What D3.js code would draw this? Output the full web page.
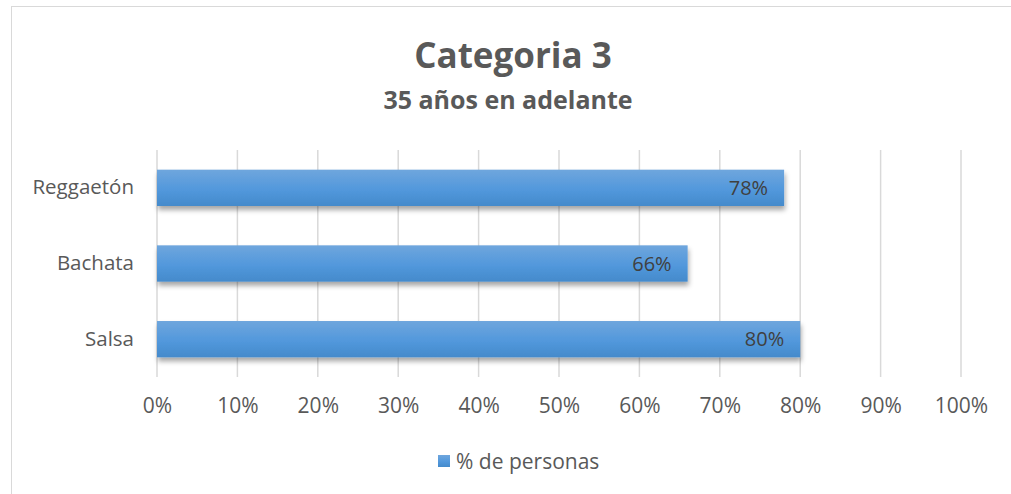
<html>
<script src="https://d3js.org/d3.v7.min.js"></script>
<style>
body { margin: 0; background: white; }
text { font-family: 'Open Sans', sans-serif; }
</style>
<body>
<svg id="chart" width="1011" height="494"></svg>
<script>
const categories = ["Reggaetón", "Bachata", "Salsa"];
const values = [0.78, 0.66, 0.80];
const ticks = [0, 0.1, 0.2, 0.3, 0.4, 0.5, 0.6, 0.7, 0.8, 0.9, 1.0];
const seriesName = "% de personas";
const title = "Categoria 3";
const subtitle = "35 años en adelante";

const svg = d3.select("#chart");

// chart frame
svg.append("rect")
  .attr("x", 11.5).attr("y", 6.5)
  .attr("width", 1011).attr("height", 494)
  .attr("fill", "white")
  .attr("stroke", "#d9d9d9");

const defs = svg.append("defs");
const grad = defs.append("linearGradient")
  .attr("id", "barGrad").attr("x1", 0).attr("y1", 0).attr("x2", 0).attr("y2", 1);
grad.append("stop").attr("offset", "0%").attr("stop-color", "#6fa6dd");
grad.append("stop").attr("offset", "55%").attr("stop-color", "#5298dc");
grad.append("stop").attr("offset", "100%").attr("stop-color", "#448acb");

const shadow = defs.append("filter").attr("id", "shadow")
  .attr("x", "-5%").attr("y", "-20%").attr("width", "110%").attr("height", "160%");
shadow.append("feDropShadow")
  .attr("dx", 1).attr("dy", 4).attr("stdDeviation", 2.5)
  .attr("flood-color", "#000").attr("flood-opacity", 0.35);

var x = d3.scaleLinear().domain([0, 1]).range([157, 961]);
var y = d3.scaleBand().domain(categories).range([150, 377]).paddingInner(0.52).paddingOuter(0.26);

// gridlines
svg.append("g")
  .selectAll("line")
  .data(ticks)
  .enter()
  .append("line")
  .attr("x1", d => x(d)).attr("x2", d => x(d))
  .attr("y1", 150).attr("y2", 377)
  .attr("stroke", "#d9d9d9")
  .attr("stroke-width", 1.5);

// bars
svg.append("g")
  .selectAll("rect")
  .data(values)
  .enter()
  .append("rect")
  .attr("x", x(0))
  .attr("y", (d, i) => y(categories[i]))
  .attr("width", d => x(d) - x(0))
  .attr("height", y.bandwidth())
  .attr("fill", "url(#barGrad)")
  .attr("filter", "url(#shadow)");

// data labels
svg.append("g")
  .selectAll("text")
  .data(values)
  .enter()
  .append("text")
  .attr("x", d => x(d) - 16)
  .attr("y", (d, i) => y(categories[i]) + y.bandwidth() / 2)
  .attr("dy", "0.36em")
  .attr("text-anchor", "end")
  .style("font-size", "20px")
  .attr("fill", "#404040")
  .text(d => Math.round(d * 100) + "%");

// y axis
const yAxis = svg.append("g")
  .attr("transform", "translate(134,0)")
  .call(d3.axisLeft(y).tickSize(0).tickPadding(0));
yAxis.select(".domain").remove();
yAxis.selectAll("text")
  .style("font-size", "20.5px")
  .style("font-family", "'Open Sans', sans-serif")
  .attr("fill", "#595959");

// x axis
const xAxis = svg.append("g")
  .attr("transform", "translate(0,377)")
  .call(d3.axisBottom(x).tickValues(ticks).tickFormat(d3.format(".0%")).tickSize(0).tickPadding(21));
xAxis.select(".domain").remove();
xAxis.selectAll("text")
  .style("font-size", "21px")
  .style("font-family", "'Open Sans', sans-serif")
  .attr("fill", "#595959");

// titles
svg.append("text")
  .attr("x", 513).attr("y", 68)
  .attr("text-anchor", "middle")
  .style("font-size", "35px")
  .style("font-weight", "bold")
  .attr("fill", "#595959")
  .text(title);

svg.append("text")
  .attr("x", 508).attr("y", 109)
  .attr("text-anchor", "middle")
  .style("font-size", "25px")
  .style("font-weight", "bold")
  .attr("fill", "#595959")
  .text(subtitle);

// legend
const legend = svg.append("g").attr("transform", "translate(438,455)");
legend.append("rect")
  .attr("width", 12).attr("height", 12)
  .attr("fill", "url(#barGrad)");
legend.append("text")
  .attr("x", 18).attr("y", 6)
  .attr("dy", "0.36em")
  .style("font-size", "21px")
  .attr("fill", "#595959")
  .text(seriesName);
</script>
</body>
</html>
